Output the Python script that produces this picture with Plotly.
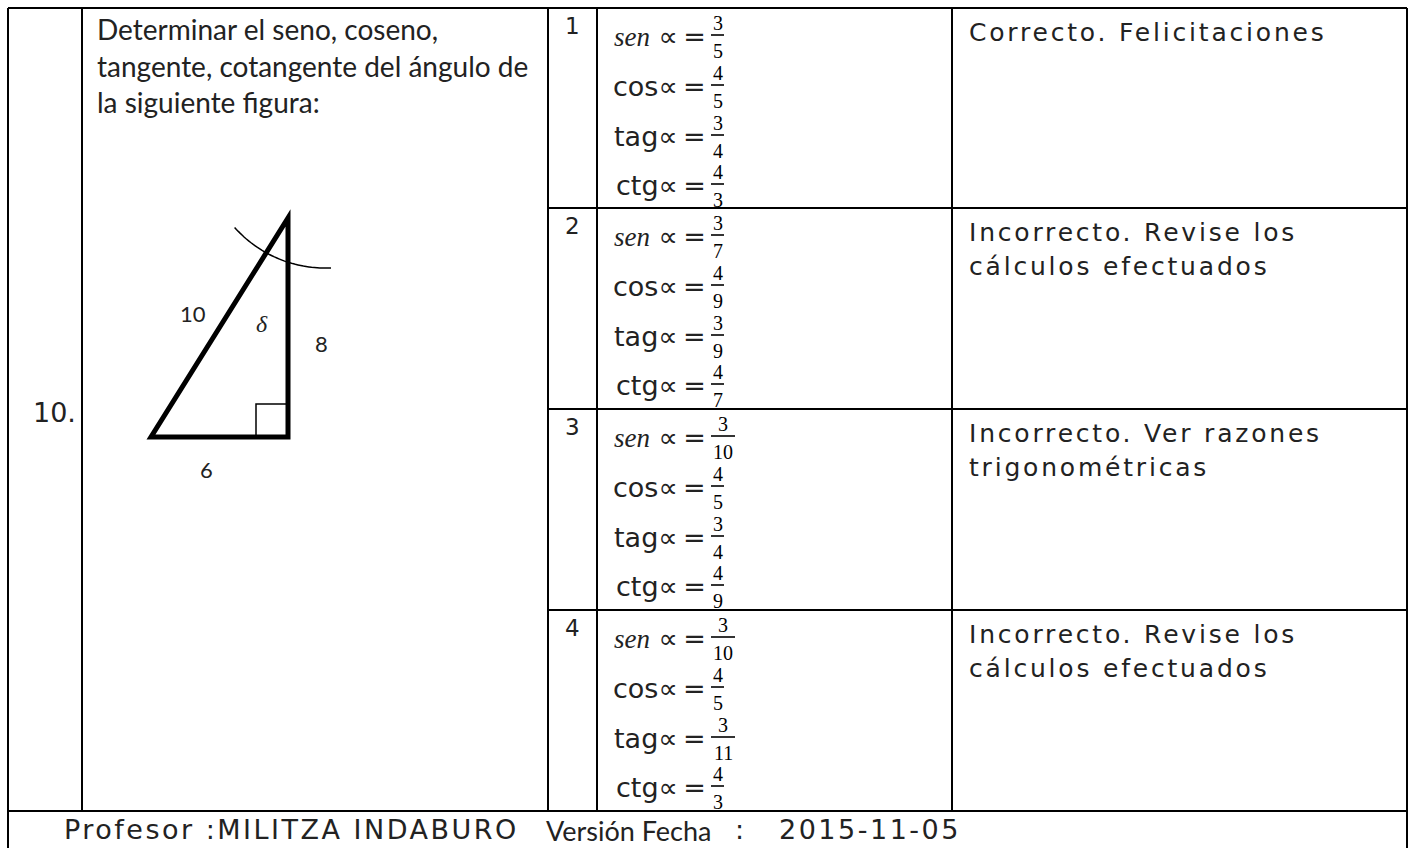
import numpy as np
import plotly.graph_objects as go

# ---------------- data ----------------
item_number = "10."
question_lines = ["Determinar el seno, coseno,",
                  "tangente, cotangente del ángulo de",
                  "la siguiente figura:"]
option_numbers = ["1", "2", "3", "4"]
func_names = ["sen", "cos", "tag", "ctg"]
sen_num = [3, 3, 3, 3]
sen_den = [5, 7, 10, 10]
cos_num = [4, 4, 4, 4]
cos_den = [5, 9, 5, 5]
tag_num = [3, 3, 3, 3]
tag_den = [4, 9, 4, 11]
ctg_num = [4, 4, 4, 4]
ctg_den = [3, 7, 9, 3]
feedback = [["Correcto. Felicitaciones"],
            ["Incorrecto. Revise los", "cálculos efectuados"],
            ["Incorrecto. Ver razones", "trigonométricas"],
            ["Incorrecto. Revise los", "cálculos efectuados"]]
side_labels = ["10", "8", "6"]
angle_label = "δ"
footer_prof = "Profesor :MILITZA INDABURO"
footer_ver = "Versión Fecha"
footer_colon = ":"
footer_date = "2015-11-05"

# ---------------- layout geometry (page pixels) ----------------
W, H = 1415, 848
X_L, X_Q, X_N, X_F, X_R, X_E = 8, 82, 548, 597, 952, 1407
ROW_TOPS = [8, 208, 409, 610]
Y_FOOT = 811
Y_BOT = 860

SANS = "DejaVu Sans"
CAL = "Lato"
SERIF = "Liberation Serif"
TXT = "#222222"

fig = go.Figure()
shapes = []
ann = []

def line(x0, y0, x1, y1, w=2, color="black"):
    shapes.append(dict(type="line", xref="x", yref="y", x0=x0, y0=y0, x1=x1, y1=y1,
                       line=dict(color=color, width=w)))

def text(x, y, s, size, family=SANS, xanchor="left", color=TXT, style="normal", ls=None):
    if ls:
        s = f"<span style='letter-spacing:{ls}px'>{s}</span>"
    ann.append(dict(x=x, y=y, xref="x", yref="y", text=s, showarrow=False,
                    xanchor=xanchor, yanchor="middle",
                    font=dict(family=family, size=size, color=color, style=style)))

# grid
line(X_L, ROW_TOPS[0], X_E, ROW_TOPS[0])
line(X_L, ROW_TOPS[0], X_L, Y_BOT)
line(X_E, ROW_TOPS[0], X_E, Y_BOT)
for xv in (X_Q, X_N, X_F, X_R):
    line(xv, ROW_TOPS[0], xv, Y_FOOT)
for yv in ROW_TOPS[1:]:
    line(X_N, yv, X_E, yv)
line(X_L, Y_FOOT, X_E, Y_FOOT)

# item number and question
text(31, 412, item_number, 27)
for i, q in enumerate(question_lines):
    text(95, 29 + i * 36.5, q, 28, family=CAL)

# triangle figure
hyp, leg, base = (int(s) for s in side_labels)
bl = (151, 437)
px_per_unit_x = 137 / base
px_per_unit_y = 219 / leg
br = (bl[0] + base * px_per_unit_x, bl[1])
tp = (br[0], bl[1] - leg * px_per_unit_y)
shapes.append(dict(type="path", xref="x", yref="y",
                   path=f"M {bl[0]},{bl[1]} L {br[0]},{br[1]} L {tp[0]},{tp[1]} Z",
                   line=dict(color="black", width=5), fillcolor="rgba(0,0,0,0)"))
shapes.append(dict(type="rect", xref="x", yref="y", x0=br[0] - 32, y0=br[1] - 33,
                   x1=br[0], y1=br[1], line=dict(color="black", width=1.5)))
# arc
cx, cy, r = 325, 147, 121
a0 = np.arctan2(227 - cy, 235 - cx)
a1 = np.arctan2(268 - cy, 331 - cx)
angs = np.linspace(a0, a1, 40)
pts = " L ".join(f"{cx + r*np.cos(a):.1f},{cy + r*np.sin(a):.1f}" for a in angs)
shapes.append(dict(type="path", xref="x", yref="y", path="M " + pts,
                   line=dict(color="black", width=1.5)))
text(193, 313, side_labels[0], 22, family=CAL, xanchor="center")
text(321, 343, side_labels[1], 22, family=CAL, xanchor="center")
text(206, 469, side_labels[2], 22, family=CAL, xanchor="center")
text(262, 324, angle_label, 24, family=SERIF, xanchor="center", style="italic")

# options
LINE_OFF = [27, 77, 127, 176]
FR_X0 = 711
for k, top in enumerate(ROW_TOPS):
    text(572, top + 18, option_numbers[k], 23, xanchor="center")
    nums = [sen_num[k], cos_num[k], tag_num[k], ctg_num[k]]
    dens = [sen_den[k], cos_den[k], tag_den[k], ctg_den[k]]
    for j in range(4):
        by = top + LINE_OFF[j]
        if j == 0:
            lab = f"<span style='font-family:{SERIF}'><i>{func_names[j]}</i></span> ∝\u2009="
        else:
            lab = f"{func_names[j]}∝\u2009="
        text(FR_X0 - 3, by + 1, lab, 27, xanchor="right")
        wden = 13 if dens[j] < 10 else 24
        line(FR_X0, by, FR_X0 + wden, by, w=1.6)
        xc = FR_X0 + wden / 2
        text(xc, by - 12, str(nums[j]), 20, family=SERIF, xanchor="center", color="black")
        text(xc, by + 16, str(dens[j]), 20, family=SERIF, xanchor="center", color="black")
    for i, fl in enumerate(feedback[k]):
        text(967, top + 24 + i * 34, fl, 25, ls=2.8)

# footer
text(62, 829, footer_prof, 27, ls=2.5)
text(544, 830, footer_ver, 27, family=CAL)
text(739, 829, footer_colon, 27, xanchor="center")
text(777, 829, footer_date, 27, ls=2.5)

fig.update_layout(
    width=W, height=H, margin=dict(l=0, r=0, t=0, b=0),
    paper_bgcolor="white", plot_bgcolor="white",
    xaxis=dict(range=[0, W], visible=False, fixedrange=True),
    yaxis=dict(range=[H, 0], visible=False, fixedrange=True),
    shapes=shapes, annotations=ann, showlegend=False,
)
# remove the default 8 px page margin so the figure fills the window exactly
fig.write_html("out.html",
               config={"displayModeBar": False},
               post_script="document.body.style.margin='0';document.body.style.overflow='hidden';")
